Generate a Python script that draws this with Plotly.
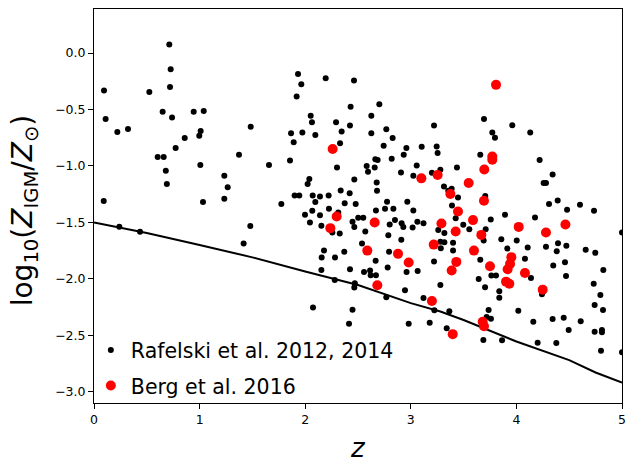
import plotly.graph_objects as go

# Rafelski et al. 2012, 2014: DLA metallicities vs redshift
raf_z = [0.713, 0.726, 0.72, 0.095, 0.524, 0.65, 0.739, 0.944, 1.039, 0.11, 0.221, 0.322, 1.484, 1.01,
         0.997, 0.859, 0.773, 1.373, 0.603, 0.66, 1.657, 1.007, 0.68, 0.69, 1.234, 1.266, 1.234, 0.092,
         1.032, 0.24, 0.436, 1.48, 1.417,
         1.932, 1.963, 1.919, 2.194, 2.462, 2.43, 2.702, 2.626, 2.052, 2.064, 2.292, 2.424, 2.345, 1.866,
         1.973, 2.096, 2.626, 2.768, 2.828, 3.22, 1.891, 2.33, 2.743, 2.958, 3.103, 3.245, 3.254, 2.933,
         1.856, 2.664, 2.686, 2.819, 2.301, 2.582, 2.658, 2.595, 3.056, 2.907, 3.024, 3.20, 3.28, 2.039,
         2.023, 2.465, 2.677, 2.68, 2.336, 2.421, 1.90, 1.944, 2.071, 2.14, 2.222, 2.096, 2.374, 2.478,
         2.775, 2.967, 1.774,
         1.998, 2.067, 2.14, 2.225, 2.313, 2.045, 2.153, 2.257, 2.327, 2.448, 2.502, 2.55, 2.465, 2.67,
         2.569, 2.756, 2.835, 2.80, 2.85, 2.913, 2.929, 3.024, 3.062, 3.12, 3.017, 2.787, 2.91, 3.26,
         2.538, 2.178, 2.156, 2.282, 2.37, 2.794, 2.667, 2.153, 2.424, 2.557, 2.614, 2.62, 2.67, 2.781,
         2.96, 3.065, 3.22, 3.28, 2.28, 2.47, 2.465, 2.945, 2.768, 3.12, 3.223, 2.074, 2.448, 2.415,
         2.98, 3.179,
         3.693, 3.961, 3.772, 3.797, 4.131, 3.658, 4.22, 3.437, 4.343, 4.258, 4.28, 3.314, 3.387, 3.355,
         3.447, 3.705, 4.391, 4.309, 4.602, 3.39,
         3.425, 3.318, 3.28, 3.318, 3.284, 3.40, 3.40, 3.497, 3.554, 3.757, 3.892, 4.176, 4.48, 4.735,
         3.709, 3.69, 3.658, 3.857, 3.914, 4.003, 4.28, 4.394, 4.382, 4.473, 4.107, 4.656, 4.747, 4.081,
         4.349, 4.46, 4.823, 4.47, 4.138, 3.763, 3.807, 3.643, 3.703, 3.838, 3.838, 4.242, 4.732, 4.795,
         4.741, 4.82, 3.737, 4.018, 3.365, 3.718, 3.759, 3.34, 3.687, 3.864, 4.16, 4.343, 4.448, 4.609,
         4.495, 4.741, 4.81, 4.81, 4.201, 4.378, 4.801, 5.0, 5.0]
raf_logz = [0.075, -0.144, -0.30, -0.333, -0.345, -0.52, -0.572, -0.52, -0.513, -0.584, -0.70, -0.673,
            -0.652, -0.69, -0.732, -0.753, -0.842, -0.90, -0.921, -0.921, -0.992, -0.992, -1.043, -1.161,
            -1.087, -1.19, -1.29, -1.31, -1.32, -1.539, -1.584, -1.533, -1.688,
            -0.185, -0.277, -0.386, -0.223, -0.244, -0.475, -0.454, -0.555, -0.555, -0.614, -0.614, -0.643,
            -0.694, -0.711, -0.703, -0.726, -0.711, -0.676, -0.753, -0.643, -0.791, -0.80, -0.821, -0.841,
            -0.83, -0.827, -0.886, -0.90, -0.951, -0.942, -0.948, -0.936, -1.013, -1.001, -1.013, -1.051,
            -0.996, -1.058, -1.087, -1.06, -1.035, -1.116, -1.161, -1.12, -1.146, -1.22, -1.217, -1.241,
            -1.262, -1.262, -1.262, -1.27, -1.262, -1.32, -1.33, -1.338, -1.318, -1.318, -1.338,
            -1.433, -1.398, -1.436, -1.38, -1.413, -1.501, -1.531, -1.59, -1.599, -1.495, -1.46, -1.46,
            -1.542, -1.395, -1.581, -1.38, -1.38, -1.519, -1.48, -1.507, -1.54, -1.395, -1.495, -1.507,
            -1.546, -1.613, -1.655, -1.567, -1.688, -1.75, -1.812, -1.812, -1.761, -1.761, -1.841, -1.921,
            -1.915, -1.939, -1.927, -1.968, -1.968, -1.90, -1.939, -1.93, -1.847, -2.055, -2.01, -2.04,
            -2.078, -2.101, -2.163, -2.169, -2.279, -2.255, -2.273, -2.397, -2.397, -2.389,
            -0.584, -0.64, -0.703, -0.75, -0.703, -0.90, -0.948, -1.013, -1.075, -1.152, -1.152, -1.182,
            -1.202, -1.22, -1.279, -1.267, -1.306, -1.338, -1.344, -1.35,
            -1.463, -1.595, -1.672, -1.675, -1.73, -1.68, -1.75, -1.52, -1.56, -1.475, -1.433, -1.457,
            -1.389, -1.398, -1.56, -1.66, -1.832, -1.65, -1.732, -1.661, -1.717, -1.684, -1.755, -1.708,
            -1.723, -1.743, -1.77, -1.823, -1.883, -1.853, -1.921, -1.974, -1.992, -1.971, -1.971, -2.001,
            -2.075, -2.11, -2.167, -2.137, -2.043, -2.143, -2.232, -2.276, -2.276, -2.282, -2.288, -2.338,
            -2.353, -2.438, -2.542, -2.545, -2.38, -2.356, -2.344, -2.376, -2.453, -2.468, -2.453, -2.474,
            -2.566, -2.569, -2.637, -1.59, -2.65]

# Berg et al. 2016
berg_z = [2.26, 2.298, 2.238, 2.658, 2.588, 2.879, 2.98, 3.217, 3.10, 3.254, 3.29, 2.683, 3.20, 3.807,
          3.772, 3.772, 3.696, 3.548, 3.375, 3.693, 3.447, 3.425, 3.589, 3.668, 3.598, 3.431, 3.387,
          4.022, 4.28, 4.464, 3.75, 3.952, 3.94, 3.917, 3.902, 3.933, 4.081, 4.249, 3.681, 3.693, 3.397]
berg_logz = [-0.85, -1.448, -1.551, -1.501, -1.75, -1.779, -1.856, -1.697, -1.11, -1.081, -1.51, -2.057,
             -2.196, -0.282, -0.916, -0.945, -1.031, -1.152, -1.249, -1.309, -1.404, -1.581, -1.48, -1.611,
             -1.75, -1.85, -1.927, -1.54, -1.59, -1.519, -1.888, -1.808, -1.868, -1.915, -2.025, -2.043,
             -1.948, -2.096, -2.38, -2.42, -2.49]

# Lower-envelope curve
curve_z = [0.0, 0.5, 1.0, 1.5, 2.0, 2.5, 3.0, 3.28, 3.5, 4.0, 4.5, 4.75, 5.0]
curve_logz = [-1.50, -1.595, -1.70, -1.81, -1.935, -2.055, -2.215, -2.29, -2.365, -2.555, -2.72, -2.83, -2.92]

y_ticks = [0.0, -0.5, -1.0, -1.5, -2.0, -2.5, -3.0]
x_ticks = [0, 1, 2, 3, 4, 5]

FONT = "DejaVu Sans"

fig = go.Figure()
fig.add_trace(go.Scatter(
    x=raf_z, y=raf_logz, mode="markers", name="Rafelski et al. 2012, 2014",
    marker=dict(color="black", size=6, line=dict(width=0)),
    legendgroup="raf",
))
fig.add_trace(go.Scatter(
    x=curve_z, y=curve_logz, mode="lines", showlegend=False,
    line=dict(color="black", width=2),
))
fig.add_trace(go.Scatter(
    x=berg_z, y=berg_logz, mode="markers", name="Berg et al. 2016",
    marker=dict(color="#ff0000", size=10, line=dict(width=0)),
    legendgroup="berg",
))

axis_common = dict(
    showgrid=False, zeroline=False, showline=True, linecolor="black", linewidth=1,
    mirror=True, ticks="outside", ticklen=5, tickwidth=1, tickcolor="black",
    automargin=False,
    tickfont=dict(family=FONT, size=12.5, color="black"),
)

fig.update_layout(
    width=626, height=457,
    margin=dict(l=94, r=4, t=9, b=54),
    paper_bgcolor="white", plot_bgcolor="white",
    font=dict(family=FONT, color="black"),
    xaxis=dict(range=[0, 5], tickvals=x_ticks, ticktext=[str(v) for v in x_ticks], **axis_common),
    yaxis=dict(range=[-3.10, 0.39], tickvals=y_ticks, tickformat=".1f", **axis_common),
    legend=dict(
        x=-0.006, y=0.185, xanchor="left", yanchor="top",
        bgcolor="rgba(0,0,0,0)", borderwidth=0,
        font=dict(family=FONT, size=20.5, color="black"),
        tracegroupgap=6, itemsizing="trace",
    ),
    annotations=[
        dict(text="<i>z</i>", xref="paper", yref="paper", x=0.5, y=-0.1144,
             xanchor="center", yanchor="middle", showarrow=False,
             font=dict(family=FONT, size=26, color="black")),
        dict(text="log<sub>10</sub>(<i>Z</i><sub>IGM</sub>/<i>Z</i><sub>⊙</sub>)",
             xref="paper", yref="paper", x=-0.13, y=0.49, textangle=-90,
             xanchor="center", yanchor="middle", showarrow=False,
             font=dict(family=FONT, size=28, color="black")),
    ],
)

fig.write_html("out.html")
